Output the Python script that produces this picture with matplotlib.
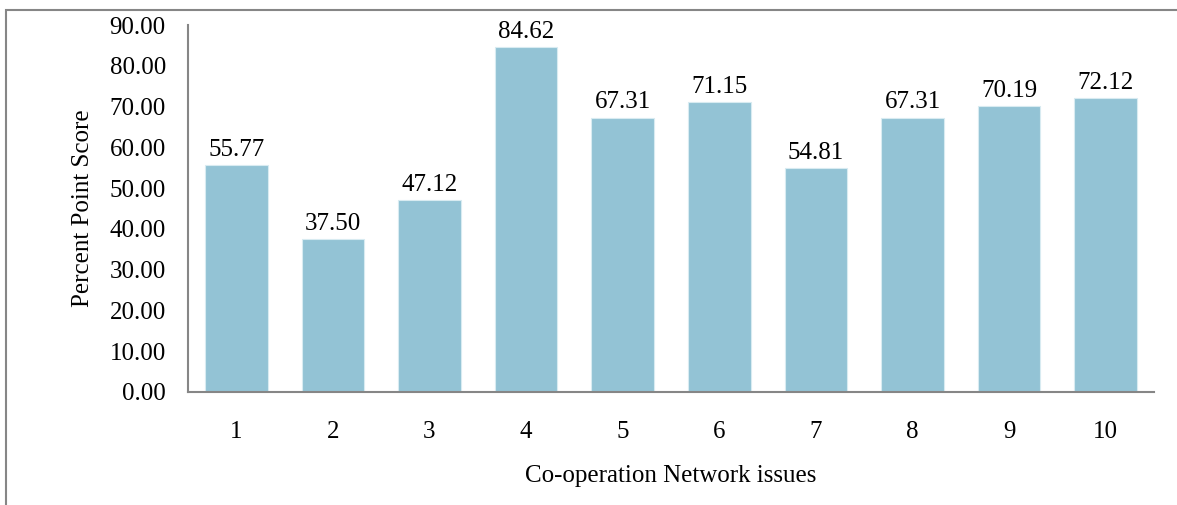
import matplotlib.pyplot as plt
from matplotlib.patches import Rectangle

issues = ['1', '2', '3', '4', '5', '6', '7', '8', '9', '10']
scores = [55.77, 37.50, 47.12, 84.62, 67.31, 71.15, 54.81, 67.31, 70.19, 72.12]
yticks = [0, 10, 20, 30, 40, 50, 60, 70, 80, 90]

plt.rcParams['font.family'] = ['Liberation Serif', 'DejaVu Serif']
plt.rcParams['font.size'] = 18

fig = plt.figure(figsize=(11.77, 5.05), dpi=100)
ax = fig.add_axes([188/1177, 1 - 392/505, (1154 - 188)/1177, (392 - 25)/505])

x = range(len(issues))
bars = ax.bar(x, scores, width=0.65, color='#93c3d5', edgecolor='#d8ebf1', linewidth=0.8)
for xi, v in zip(x, scores):
    ax.text(xi, v + 1.0, f'{v:.2f}', ha='center', va='bottom', fontsize=18)

ax.set_xlim(-0.5, len(issues) - 0.5)
ax.set_ylim(0, 90)
ax.set_yticks(yticks)
ax.set_yticklabels([f'{t:.2f}' for t in yticks])
ax.set_xticks(list(x))
ax.set_xticklabels(issues)
ax.tick_params(length=0, pad=16)
ax.tick_params(axis='x', pad=21)

for s in ['top', 'right']:
    ax.spines[s].set_visible(False)
for s in ['left', 'bottom']:
    ax.spines[s].set_color('#868686')
    ax.spines[s].set_linewidth(1.5)

ax.set_ylabel('Percent Point Score', fontsize=18, labelpad=11)
ax.set_xlabel('Co-operation Network issues', fontsize=18, labelpad=16)

# outer chart border (left and top visible)
fig.add_artist(Rectangle((6/1177, -0.1), 1.2, 1 - 10/505 + 0.1, transform=fig.transFigure,
                         fill=False, edgecolor='#868686', linewidth=1.5))

fig.savefig('out.png', dpi=100)
